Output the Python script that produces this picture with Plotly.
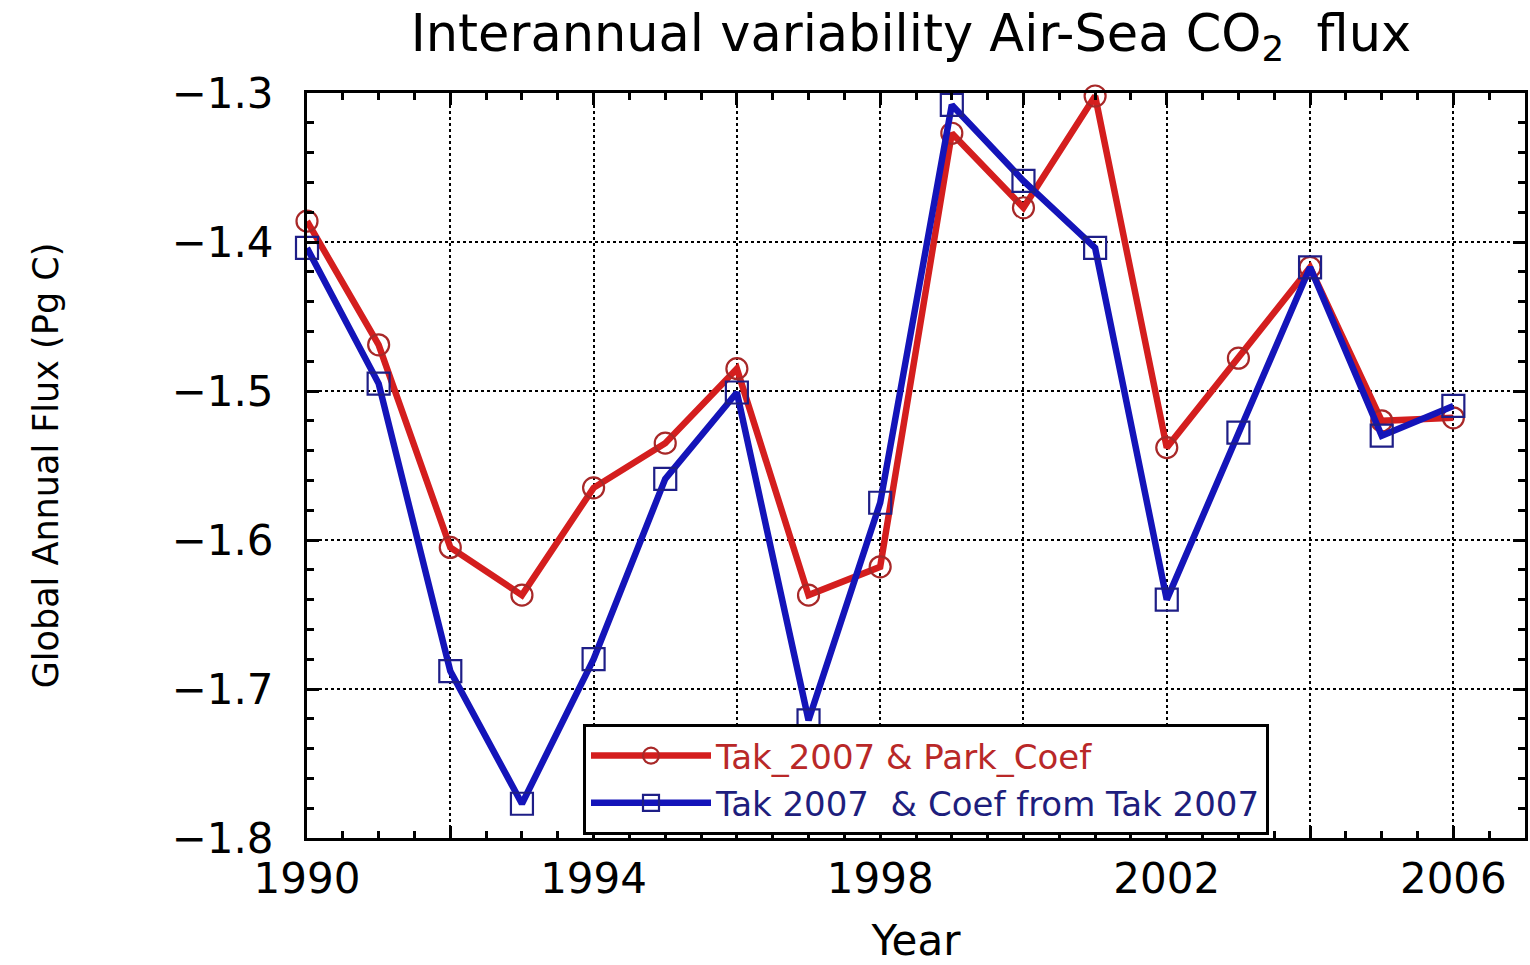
import plotly.graph_objects as go

# Years and global annual air-sea CO2 flux (Pg C) for the two coefficient choices
years = [1990, 1991, 1992, 1993, 1994, 1995, 1996, 1997, 1998,
         1999, 2000, 2001, 2002, 2003, 2004, 2005, 2006]

flux_park_coef = [-1.386, -1.469, -1.605, -1.637, -1.565, -1.535, -1.485, -1.637, -1.618,
                  -1.327, -1.377, -1.302, -1.538, -1.478, -1.417, -1.520, -1.518]

flux_tak_coef = [-1.404, -1.495, -1.688, -1.777, -1.680, -1.559, -1.501, -1.721, -1.575,
                 -1.308, -1.359, -1.404, -1.640, -1.528, -1.417, -1.530, -1.510]

series_names = ["Tak_2007 & Park_Coef", "Tak 2007\u00a0 & Coef from Tak 2007"]

x_label_years = [1990, 1994, 1998, 2002, 2006]
y_tick_vals = [-1.8, -1.7, -1.6, -1.5, -1.4, -1.3]

FONT = "DejaVu Sans, Liberation Sans, Arial, sans-serif"
RED_LINE = "rgb(212,30,30)"
RED_MARK = "rgb(168,40,40)"
RED_TEXT = "rgb(185,40,40)"
BLUE_LINE = "rgb(20,20,185)"
BLUE_MARK = "rgb(30,30,135)"
BLUE_TEXT = "rgb(30,30,125)"

X_RANGE = [1990, 2007]
Y_RANGE = [-1.8, -1.3]

fig = go.Figure()

fig.add_trace(go.Scatter(
    x=years, y=flux_park_coef, mode="lines+markers",
    name=f"<span style='color:{RED_TEXT}'>{series_names[0]}</span>",
    line=dict(color=RED_LINE, width=6.5),
    marker=dict(symbol="circle-open", size=21, color=RED_MARK, line=dict(width=2.2, color=RED_MARK)),
    cliponaxis=False,
))

fig.add_trace(go.Scatter(
    x=years, y=flux_tak_coef, mode="lines+markers",
    name=f"<span style='color:{BLUE_TEXT}'>{series_names[1]}</span>",
    line=dict(color=BLUE_LINE, width=6.5),
    marker=dict(symbol="square-open", size=22, color=BLUE_MARK, line=dict(width=2.2, color=BLUE_MARK)),
    cliponaxis=False,
))

# Empty trace that anchors the half-year tick axis
fig.add_trace(go.Scatter(x=[], y=[], xaxis="x2", yaxis="y", showlegend=False, hoverinfo="skip"))

grid_style = dict(gridcolor="black", gridwidth=1.5, griddash="dot")

# Main x axis: labelled years every 4, long ticks + dotted grid every 2 years
fig.update_layout(xaxis=dict(
    range=X_RANGE, automargin=False,
    showline=True, linecolor="black", linewidth=3, mirror="ticks",
    ticks="inside", tickcolor="black", tickwidth=3, ticklen=12,
    tickmode="array", tickvals=x_label_years,
    showgrid=True, **grid_style,
    minor=dict(tickmode="linear", tick0=1990, dtick=2, ticks="inside", ticklen=12, tickwidth=3,
               tickcolor="black", showgrid=True, **grid_style),
    zeroline=False,
    tickfont=dict(family=FONT, size=42, color="black"),
    ticklabelstandoff=2,
    title=dict(text="Year", font=dict(family=FONT, size=42, color="black"), standoff=28),
))

# Overlay axis carrying the half-year minor ticks on the bottom and top edges
fig.update_layout(xaxis2=dict(
    overlaying="x", range=X_RANGE, side="bottom", anchor="y", automargin=False,
    showline=True, linecolor="black", linewidth=3, mirror="ticks",
    ticks="inside", tickmode="linear", tick0=1990, dtick=0.5,
    ticklen=7, tickwidth=2.5, tickcolor="black",
    showticklabels=False, showgrid=False, zeroline=False,
))

fig.update_layout(yaxis=dict(
    range=Y_RANGE, automargin=False,
    showline=True, linecolor="black", linewidth=3, mirror="ticks",
    ticks="inside", tickcolor="black", tickwidth=3, ticklen=12,
    tickmode="array", tickvals=y_tick_vals,
    ticktext=[f"\u2212{abs(v):.1f}" for v in y_tick_vals],
    showgrid=True, **grid_style,
    minor=dict(dtick=0.02, ticks="inside", ticklen=7, tickwidth=2.5, tickcolor="black", showgrid=False),
    zeroline=False,
    tickfont=dict(family=FONT, size=42, color="black"),
    ticklabelstandoff=22,
    title=dict(text="Global Annual Flux (Pg C)", font=dict(family=FONT, size=35, color="black"), standoff=103),
))

fig.update_layout(
    width=1530, height=965,
    margin=dict(l=307, r=5, t=93, b=127),
    paper_bgcolor="white", plot_bgcolor="white",
    title=dict(
        text="Interannual variability Air-Sea CO<sub>2</sub>  flux",
        font=dict(family=FONT, size=51, color="black"),
        x=0.5954, xanchor="center", xref="container",
        y=0.966, yanchor="middle", yref="container",
    ),
    showlegend=True,
    legend=dict(
        x=0.2266, y=0.004, xanchor="left", yanchor="bottom",
        bgcolor="white", bordercolor="black", borderwidth=3,
        font=dict(family=FONT, size=34),
        itemwidth=120, tracegroupgap=0,
        traceorder="normal",
    ),
)

fig.write_html("out.html")
